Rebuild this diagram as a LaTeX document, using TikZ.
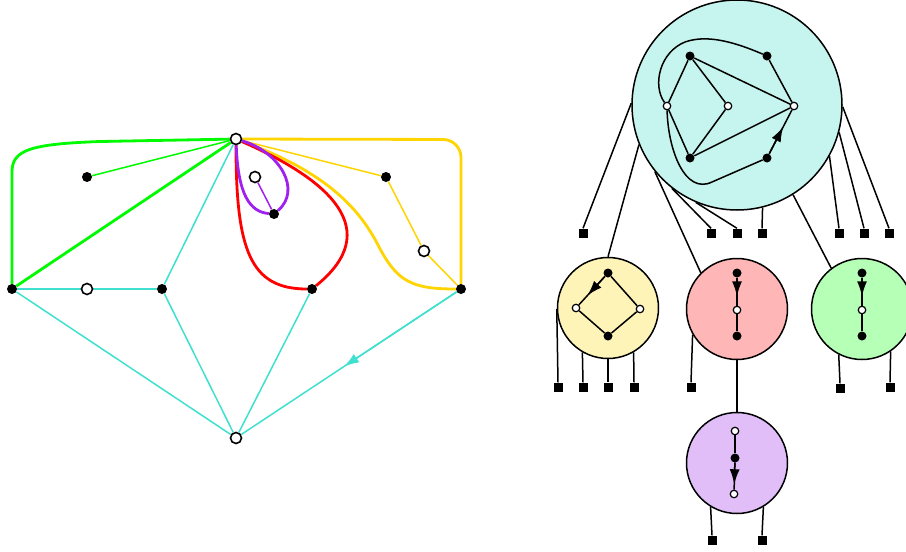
\documentclass[tikz,border=0pt]{standalone}
\usetikzlibrary{arrows.meta,calc}
\definecolor{cgreen}{RGB}{0,250,0}
\definecolor{cgold}{RGB}{255,212,0}
\definecolor{cred}{RGB}{255,0,0}
\definecolor{cpurple}{RGB}{160,32,240}
\definecolor{ccyan}{RGB}{64,224,208}
\definecolor{bigfill}{RGB}{198,244,238}
\definecolor{yelfill}{RGB}{255,244,184}
\definecolor{redfill}{RGB}{255,182,182}
\definecolor{grnfill}{RGB}{182,255,182}
\definecolor{purfill}{RGB}{225,190,248}
\pgfdeclarelayer{bg}\pgfdeclarelayer{mid}\pgfdeclarelayer{top}
\pgfsetlayers{bg,main,mid,top}
\begin{document}
\begin{tikzpicture}[x=1pt,y=-1pt,
  bdot/.style={circle,fill=black,inner sep=0pt,minimum size=10pt},
  wdot/.style={circle,draw=black,fill=white,line width=1.6pt,inner sep=0pt,minimum size=11pt},
  sbdot/.style={circle,fill=black,inner sep=0pt,minimum size=9pt},
  swdot/.style={circle,draw=black,fill=white,line width=1.2pt,inner sep=0pt,minimum size=7.5pt},
  leaf/.style={rectangle,fill=black,inner sep=0pt,minimum size=9pt},
  bag/.style={circle,draw=black,line width=1.5pt,inner sep=0pt,minimum size=101pt},
  thinl/.style={line width=1.5pt},
  thickl/.style={line width=2.8pt},
  rline/.style={line width=1.5pt,draw=black},
  tipped/.style={-{Latex[length=15pt,width=10pt]}}]
\useasboundingbox (0,0) rectangle (906,552);
\clip (0,0) rectangle (906,552);

% ---------- left graph nodes ----------
\node[wdot] (T) at (236,139) {};
\node[bdot] (A) at (87,177) {};
\node[wdot] (P) at (255,177) {};
\node[bdot] (Q) at (274,214) {};
\node[bdot] (Y1) at (386,177) {};
\node[wdot] (Y2) at (424,251) {};
\node[bdot] (L) at (12,289) {};
\node[wdot] (W) at (87,289) {};
\node[bdot] (M) at (162,289) {};
\node[bdot] (R) at (312,289) {};
\node[bdot] (Rt) at (461,289) {};
\node[wdot] (B) at (236,438) {};

\begin{pgfonlayer}{bg}
\draw[ccyan,thinl] (L) -- (W) -- (M);
\draw[ccyan,thinl] (L) -- (B);
\draw[ccyan,thinl] (M) -- (B);
\draw[ccyan,thinl] (M) -- (T);
\draw[ccyan,thinl] (R) -- (B);
\draw[ccyan,thinl] (Rt) -- (B);
\draw[ccyan,thinl,tipped] (Rt) -- ($(Rt)!0.52!(B)$);
\draw[cgreen,thinl] (A) -- (T);
\draw[cgreen,thickl] (L) -- (T);
\draw[cgreen,thickl] (L) -- (12,172) .. controls (12,150) and (30,144) .. (100,141.5) -- (T);
\draw[cgold,thickl,rounded corners=18pt] (T) -- (461,139.5) -- (Rt);
\draw[cgold,thickl] (T) .. controls (315,168) and (355,200) .. (378,245) .. controls (397,282) and (412,289) .. (Rt);
\draw[cgold,thinl] (T) -- (Y1) -- (Y2) -- (Rt);
\draw[cred,thickl] (T) .. controls (236,250) and (250,289) .. (R);
\draw[cred,thickl] (T) .. controls (330,180) and (385,230) .. (R);
\draw[cpurple,thickl] (T) .. controls (238,195) and (250,212) .. (Q);
\draw[cpurple,thickl] (T) .. controls (280,152) and (302,190) .. (Q);
\draw[cpurple,thinl] (P) -- (Q);
\end{pgfonlayer}

% ---------- right tree: bags ----------
\node[bag,fill=bigfill,minimum size=210pt] (big) at (737,105) {};
\node[bag,fill=yelfill] (yel) at (608,308) {};
\node[bag,fill=redfill] (red) at (737,309) {};
\node[bag,fill=grnfill] (grn) at (862,309) {};
\node[bag,fill=purfill] (pur) at (737,463) {};

% leaves
\node[leaf] (s1) at (583,233) {};
\node[leaf] (s2) at (711,233) {};
\node[leaf] (s3) at (737,233) {};
\node[leaf] (s4) at (762,233) {};
\node[leaf] (s5) at (839,233) {};
\node[leaf] (s6) at (864,233) {};
\node[leaf] (s7) at (889,233) {};
\node[leaf] (y1) at (558,387) {};
\node[leaf] (y2) at (583,387) {};
\node[leaf] (y3) at (608,387) {};
\node[leaf] (y4) at (634,387) {};
\node[leaf] (r1) at (691,387) {};
\node[leaf] (g1) at (840,388) {};
\node[leaf] (g2) at (890,387) {};
\node[leaf] (p1) at (712,540) {};
\node[leaf] (p2) at (762,540) {};

\begin{pgfonlayer}{bg}
\draw[rline] (big.179) -- (s1.north);
\draw[rline] (big.202) -- (yel.north);
\draw[rline] (big.219) -- (red.135);
\draw[rline] (big.232) -- (s2.north);
\draw[rline] (big.247) -- (s3.north);
\draw[rline] (big.284) -- (s4.north);
\draw[rline] (big.302) -- (grn.127);
\draw[rline] (big.331) -- (s5.north);
\draw[rline] (big.345) -- (s6.north);
\draw[rline] (big.359) -- (s7.north);
\draw[rline] (yel.181) -- (y1.north);
\draw[rline] (yel.240) -- (y2.north);
\draw[rline] (yel.270) -- (y3.north);
\draw[rline] (yel.300) -- (y4.north);
\draw[rline] (red.210) -- (r1.north);
\draw[rline] (red.south) -- (pur.north);
\draw[rline] (grn.243) -- (g1.north);
\draw[rline] (grn.304) -- (g2.north);
\draw[rline] (pur.239) -- (p1.north);
\draw[rline] (pur.301) -- (p2.north);
\end{pgfonlayer}

% ---------- inner graphs ----------
\begin{pgfonlayer}{top}
\node[sbdot] (ia) at (690,56) {};
\node[sbdot] (ib) at (767,56) {};
\node[swdot] (ic) at (667,106) {};
\node[swdot] (id) at (728,106) {};
\node[swdot] (ie) at (794,106) {};
\node[sbdot] (if) at (690,158) {};
\node[sbdot] (ig) at (767,158) {};
\node[sbdot] (ya) at (608,273) {};
\node[swdot] (yb) at (576,308) {};
\node[swdot] (yc) at (640,309) {};
\node[sbdot] (yd) at (608,336) {};
\node[sbdot] (ra) at (737,273) {};
\node[swdot] (rb) at (737,310) {};
\node[sbdot] (rc) at (737,336) {};
\node[sbdot] (ga) at (862,273) {};
\node[swdot] (gb) at (862,310) {};
\node[sbdot] (gc) at (862,336) {};
\node[swdot] (pa) at (735,431) {};
\node[sbdot] (pb) at (735,458) {};
\node[swdot] (pc) at (734,494) {};
\end{pgfonlayer}

\begin{pgfonlayer}{mid}
\draw[rline] (ia) -- (ic);
\draw[rline] (ia) -- (id);
\draw[rline] (ia) -- (ie);
\draw[rline] (id) -- (if);
\draw[rline] (ic) -- (if);
\draw[rline] (if) -- (ie);
\draw[rline] (ib) -- (ie);
\draw[rline] (ig) -- (ie);
\draw[rline,tipped] (ig) -- ($(ig)!0.6!(ie)$);
\draw[rline] (ib) .. controls (730,40) and (705,35) .. (685,42) .. controls (660,52) and (652,85) .. (ic);
\draw[rline] (ic) .. controls (668,150) and (685,195) .. (712,182) -- (ig);
\draw[rline] (ya) -- (yb);
\draw[rline,tipped] (ya) -- ($(ya)!0.64!(yb)$);
\draw[rline] (ya) -- (yc);
\draw[rline] (yb) -- (yd);
\draw[rline] (yc) -- (yd);
\draw[rline] (ra) -- (rb);
\draw[rline,tipped] (ra) -- ($(ra)!0.63!(rb)$);
\draw[rline] (rb) -- (rc);
\draw[rline] (ga) -- (gb);
\draw[rline,tipped] (ga) -- ($(ga)!0.63!(gb)$);
\draw[rline] (gb) -- (gc);
\draw[rline] (pa) -- (pb);
\draw[rline] (pb) -- (pc);
\draw[rline,tipped] (pb) -- ($(pb)!0.73!(pc)$);
\end{pgfonlayer}
\end{tikzpicture}
\end{document}
